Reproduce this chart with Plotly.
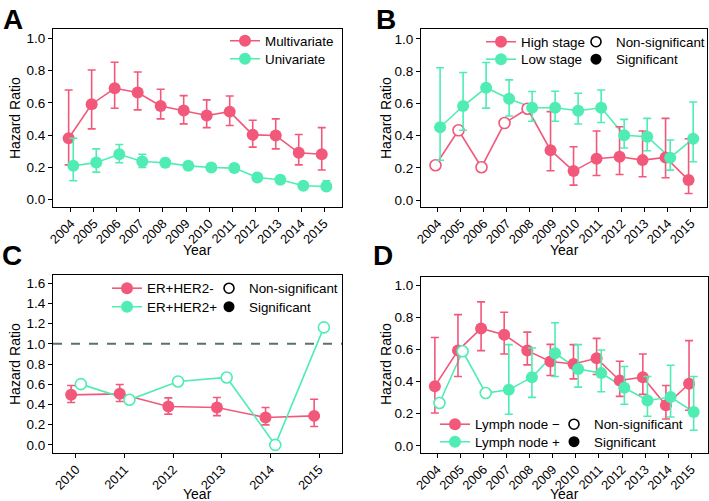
import plotly.graph_objects as go

PINK = "#F2587A"
GREEN = "#4FEDB4"
FONT = "Liberation Sans, Arial, Helvetica, sans-serif"

# ---------------- Panel A ----------------
years_a = [2004, 2005, 2006, 2007, 2008, 2009, 2010, 2011, 2012, 2013, 2014, 2015]
multi_hr = [0.381, 0.592, 0.691, 0.664, 0.581, 0.553, 0.522, 0.546, 0.402, 0.398, 0.291, 0.282]
multi_lo = [0.216, 0.439, 0.567, 0.557, 0.501, 0.470, 0.447, 0.460, 0.326, 0.315, 0.216, 0.184]
multi_hi = [0.680, 0.804, 0.852, 0.792, 0.685, 0.645, 0.619, 0.643, 0.493, 0.501, 0.404, 0.447]
multi_sig = [1, 1, 1, 1, 1, 1, 1, 1, 1, 1, 1, 1]
uni_hr = [0.210, 0.231, 0.282, 0.237, 0.229, 0.210, 0.200, 0.196, 0.138, 0.124, 0.087, 0.082]
uni_lo = [0.118, 0.171, 0.229, 0.200, 0.205, 0.188, 0.180, 0.176, 0.120, 0.106, 0.070, 0.060]
uni_hi = [0.381, 0.315, 0.342, 0.282, 0.255, 0.235, 0.222, 0.218, 0.158, 0.145, 0.106, 0.118]
uni_sig = [1, 1, 1, 1, 1, 1, 1, 1, 1, 1, 1, 1]

# ---------------- Panel B ----------------
years_b = [2004, 2005, 2006, 2007, 2008, 2009, 2010, 2011, 2012, 2013, 2014, 2015]
high_hr = [0.216, 0.433, 0.204, 0.478, 0.567, 0.310, 0.180, 0.257, 0.269, 0.248, 0.265, 0.124]
high_lo = [None, None, None, None, None, 0.182, 0.093, 0.153, 0.159, 0.145, 0.139, 0.041]
high_hi = [None, None, None, None, None, 0.549, 0.331, 0.429, 0.455, 0.429, 0.507, 0.381]
high_sig = [0, 0, 0, 0, 0, 1, 1, 1, 1, 1, 1, 1]
low_hr = [0.452, 0.584, 0.697, 0.629, 0.573, 0.573, 0.555, 0.573, 0.402, 0.393, 0.263, 0.381]
low_lo = [0.247, 0.433, 0.571, 0.522, 0.489, 0.489, 0.472, 0.482, 0.323, 0.306, 0.186, 0.238]
low_hi = [0.821, 0.792, 0.854, 0.746, 0.674, 0.676, 0.663, 0.683, 0.501, 0.507, 0.373, 0.609]
low_sig = [1, 1, 1, 1, 1, 1, 1, 1, 1, 1, 1, 1]

# ---------------- Panel C ----------------
years_c = [2010, 2011, 2012, 2013, 2014, 2015]
erneg_hr = [0.495, 0.505, 0.380, 0.370, 0.271, 0.287]
erneg_lo = [0.419, 0.429, 0.304, 0.290, 0.198, 0.182]
erneg_hi = [0.587, 0.597, 0.465, 0.469, 0.370, 0.452]
erneg_sig = [1, 1, 1, 1, 1, 1]
erpos_hr = [0.601, 0.446, 0.627, 0.667, 0.000, 1.162]
erpos_lo = [None, None, None, None, None, None]
erpos_hi = [None, None, None, None, None, None]
erpos_sig = [0, 0, 0, 0, 0, 0]
reference_hr = 1.0

# ---------------- Panel D ----------------
years_d = [2004, 2005, 2006, 2007, 2008, 2009, 2010, 2011, 2012, 2013, 2014, 2015]
lnneg_hr = [0.371, 0.592, 0.730, 0.691, 0.592, 0.524, 0.509, 0.544, 0.406, 0.427, 0.252, 0.386]
lnneg_lo = [0.204, 0.431, 0.592, 0.571, 0.503, 0.437, 0.416, 0.443, 0.307, 0.320, 0.167, 0.221]
lnneg_hi = [0.674, 0.816, 0.895, 0.831, 0.707, 0.631, 0.629, 0.668, 0.526, 0.571, 0.375, 0.654]
lnneg_sig = [1, 1, 1, 1, 1, 1, 1, 1, 1, 1, 1, 1]
lnpos_hr = [0.266, 0.588, 0.328, 0.348, 0.427, 0.575, 0.478, 0.452, 0.361, 0.282, 0.303, 0.210]
lnpos_lo = [None, None, None, 0.196, 0.301, 0.431, 0.365, 0.336, 0.258, 0.184, 0.179, 0.097]
lnpos_hi = [None, None, None, 0.629, 0.608, 0.765, 0.629, 0.596, 0.493, 0.431, 0.501, 0.431]
lnpos_sig = [0, 0, 0, 1, 1, 1, 1, 1, 1, 1, 1, 1]

W, H = 709, 501
DODGE = 0.1
MSIZE = 12


def px_x(p):
    return p / W


def px_y(p):
    return 1 - p / H


fig = go.Figure()
legend_layouts = {}
leg_common = dict(bgcolor="rgba(0,0,0,0)", borderwidth=0, font=dict(size=13.4, color="black"),
                  tracegroupgap=0, itemwidth=30, xanchor="left", yanchor="top", orientation="v")


def new_legend(x_px, top_px):
    n = len(legend_layouts) + 1
    key = "legend" if n == 1 else f"legend{n}"
    legend_layouts[key] = dict(leg_common, x=px_x(x_px), y=px_y(top_px))
    return key


def add_panel(ax, years, series, leg_x, leg_tops):
    xa = "x" if ax == 1 else f"x{ax}"
    ya = "y" if ax == 1 else f"y{ax}"
    offsets = [-DODGE, DODGE]
    for (name, color, hr, lo, hi, sig), off in zip(series, offsets):
        xs = [y + off for y in years]
        fig.add_trace(go.Scatter(x=xs, y=hr, mode="lines", line=dict(color=color, width=1.6),
                                 xaxis=xa, yaxis=ya, showlegend=False, hoverinfo="skip"))
    for (name, color, hr, lo, hi, sig), off in zip(series, offsets):
        xs = [y + off for y in years]
        sx = [x for x, s in zip(xs, sig) if s]
        sy = [v for v, s in zip(hr, sig) if s]
        up = [h - v for v, h, s in zip(hr, hi, sig) if s]
        dn = [v - l for v, l, s in zip(hr, lo, sig) if s]
        if sx:
            fig.add_trace(go.Scatter(
                x=sx, y=sy, mode="markers",
                marker=dict(color=color, size=MSIZE, line=dict(width=0)),
                error_y=dict(type="data", symmetric=False, array=up, arrayminus=dn,
                             color=color, thickness=1.6, width=4),
                xaxis=xa, yaxis=ya, showlegend=False))
        nx = [x for x, s in zip(xs, sig) if not s]
        ny = [v for v, s in zip(hr, sig) if not s]
        if nx:
            fig.add_trace(go.Scatter(
                x=nx, y=ny, mode="markers",
                marker=dict(color="white", size=MSIZE - 1, line=dict(width=1.6, color=color)),
                xaxis=xa, yaxis=ya, showlegend=False))
    for (name, color, hr, lo, hi, sig), top in zip(series, leg_tops):
        fig.add_trace(go.Scatter(x=[None], y=[None], mode="lines+markers", name=name,
                                 line=dict(color=color, width=1.6),
                                 marker=dict(color=color, size=MSIZE),
                                 xaxis=xa, yaxis=ya, legend=new_legend(leg_x, top)))


def add_shape_legend(ax, leg_x, leg_tops):
    xa = "x" if ax == 1 else f"x{ax}"
    ya = "y" if ax == 1 else f"y{ax}"
    fig.add_trace(go.Scatter(x=[None], y=[None], mode="markers", name="Non-significant",
                             marker=dict(color="white", size=10, line=dict(width=1.6, color="black")),
                             xaxis=xa, yaxis=ya, legend=new_legend(leg_x, leg_tops[0])))
    fig.add_trace(go.Scatter(x=[None], y=[None], mode="markers", name="Significant",
                             marker=dict(color="black", size=11),
                             xaxis=xa, yaxis=ya, legend=new_legend(leg_x, leg_tops[1])))


add_panel(1, years_a, [("Multivariate", PINK, multi_hr, multi_lo, multi_hi, multi_sig),
                       ("Univariate", GREEN, uni_hr, uni_lo, uni_hi, uni_sig)],
          225, [25.5, 43.5])
add_panel(2, years_b, [("High stage", PINK, high_hr, high_lo, high_hi, high_sig),
                       ("Low stage", GREEN, low_hr, low_lo, low_hi, low_sig)],
          481, [26.5, 44])
add_shape_legend(2, 576, [26.5, 44])
add_panel(3, years_c, [("ER+HER2-", PINK, erneg_hr, erneg_lo, erneg_hi, erneg_sig),
                       ("ER+HER2+", GREEN, erpos_hr, erpos_lo, erpos_hi, erpos_sig)],
          107, [273, 291.5])
add_shape_legend(3, 209, [273, 291.5])
add_panel(4, years_d, [("Lymph node \u2212", PINK, lnneg_hr, lnneg_lo, lnneg_hi, lnneg_sig),
                       ("Lymph node +", GREEN, lnpos_hr, lnpos_lo, lnpos_hi, lnpos_sig)],
          435, [409, 426.5])
add_shape_legend(4, 554, [409, 426.5])

boxes = {1: (53, 342, 29, 207), 2: (421, 707, 29, 207), 3: (53, 342, 275, 453), 4: (421, 708, 277, 453)}
xranges = {1: [2003.22, 2015.78], 2: [2003.27, 2015.7], 3: [2009.527, 2015.473], 4: [2003.3, 2015.72]}
yranges = {1: [-0.045, 1.058], 2: [-0.043, 1.062], 3: [-0.08, 1.68], 4: [-0.045, 1.05]}
xticks = {1: years_a, 2: years_b, 3: years_c, 4: years_d}
yticks = {1: [0, 0.2, 0.4, 0.6, 0.8, 1.0], 2: [0, 0.2, 0.4, 0.6, 0.8, 1.0],
          3: [0, 0.2, 0.4, 0.6, 0.8, 1.0, 1.2, 1.4, 1.6], 4: [0, 0.2, 0.4, 0.6, 0.8, 1.0]}

layout = dict(width=W, height=H, margin=dict(l=0, r=0, t=0, b=0, autoexpand=False),
              paper_bgcolor="white", plot_bgcolor="white",
              font=dict(family=FONT, color="black", size=13.5))
layout.update(legend_layouts)
for i in range(1, 5):
    l, r, t, b = boxes[i]
    xk = "xaxis" if i == 1 else f"xaxis{i}"
    yk = "yaxis" if i == 1 else f"yaxis{i}"
    ya = "y" if i == 1 else f"y{i}"
    xa = "x" if i == 1 else f"x{i}"
    layout[xk] = dict(domain=[px_x(l), px_x(r)], anchor=ya, range=xranges[i],
                      tickmode="array", tickvals=xticks[i], ticktext=[str(v) for v in xticks[i]],
                      tickangle=-45, showgrid=False, zeroline=False, showline=True, mirror=True,
                      linecolor="black", linewidth=1, ticks="outside", ticklen=4, tickwidth=1,
                      tickcolor="black", tickfont=dict(size=12.8, color="black"),
                      ticklabelstandoff=-1)
    layout[yk] = dict(domain=[px_y(b), px_y(t)], anchor=xa, range=yranges[i],
                      tickmode="array", tickvals=yticks[i], tickformat=".1f",
                      showgrid=False, zeroline=False, showline=True, mirror=True,
                      linecolor="black", linewidth=1, ticks="outside", ticklen=4, tickwidth=1,
                      tickcolor="black", tickfont=dict(size=13.5, color="black"))

annotations = []
for letter, (x, y) in zip("ABCD", [(13, 19), (386, 19), (12, 255), (383, 255)]):
    annotations.append(dict(text=f"<b>{letter}</b>", x=px_x(x), y=px_y(y), xref="paper", yref="paper",
                            showarrow=False, font=dict(size=28, color="black"),
                            xanchor="center", yanchor="middle"))
for x, y in [(15, 118), (386, 118), (15, 364), (386, 364)]:
    annotations.append(dict(text="Hazard Ratio", x=px_x(x), y=px_y(y), xref="paper", yref="paper",
                            showarrow=False, textangle=-90, font=dict(size=14, color="black"),
                            xanchor="center", yanchor="middle"))
for x, y in [(197, 250), (564, 250), (197, 494), (564, 494)]:
    annotations.append(dict(text="Year", x=px_x(x), y=px_y(y), xref="paper", yref="paper",
                            showarrow=False, font=dict(size=14, color="black"),
                            xanchor="center", yanchor="middle"))
layout["annotations"] = annotations
layout["shapes"] = [dict(type="line", xref="x3 domain", x0=0, x1=1, yref="y3",
                         y0=reference_hr, y1=reference_hr,
                         line=dict(color="#5E6F6F", width=2, dash="dash"), layer="below")]

fig.update_layout(**layout)
fig.write_html("out.html", config={"displayModeBar": False},
               post_script="document.body.style.margin='0px';document.body.style.overflow='hidden';")
